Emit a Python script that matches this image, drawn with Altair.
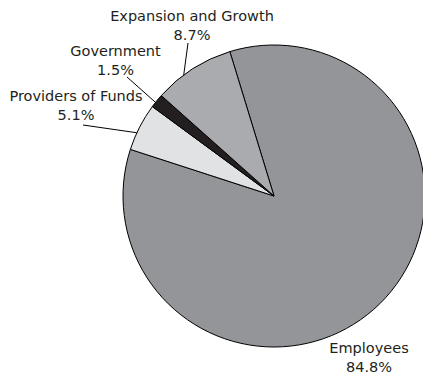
import math
import altair as alt
import pandas as pd

# ---- data ----
categories = ["Employees", "Providers of Funds", "Government", "Expansion and Growth"]
shares = [84.8, 5.1, 1.5, 8.7]
pct_labels = ["84.8%", "5.1%", "1.5%", "8.7%"]
colors = ["#939598", "#e1e2e4", "#231f20", "#a9abae"]

# ---- layout (pixels / degrees) ----
W, H = 423, 373
CX, CY, R = 274, 196, 151
START_DEG = -17.0
label_x = [369, 76, 115.5, 192]
label_y = [352.5, 100.5, 56, 21]          # baseline of first line
leader_end_x = [None, 83, 127, 188]
leader_end_y = [None, 125, 77, 43]
leader_frac = 0.37                          # position of leader start within slice

total = sum(shares)
pie_df = pd.DataFrame({
    "category": categories,
    "share": shares,
    "idx": list(range(len(categories))),
})

start_rad = math.radians(START_DEG)
pie = alt.Chart(pie_df).mark_arc(
    outerRadius=R, stroke="#000000", strokeWidth=1
).encode(
    theta=alt.Theta("share:Q", stack=True,
                    scale=alt.Scale(range=[start_rad, start_rad + 2 * math.pi])),
    color=alt.Color("category:N", scale=alt.Scale(domain=categories, range=colors),
                    legend=None),
    order=alt.Order("idx:Q"),
    x=alt.value(CX),
    y=alt.value(CY),
)

# leader lines, starting on the rim inside each slice
rows = []
cum = 0.0
for i, s in enumerate(shares):
    if leader_end_x[i] is not None:
        ang = math.radians(START_DEG + (cum + leader_frac * s) / total * 360.0)
        rows.append({
            "x": CX + R * math.sin(ang), "y": CY - R * math.cos(ang),
            "x2": leader_end_x[i], "y2": leader_end_y[i],
        })
    cum += s
lead_df = pd.DataFrame(rows)
leaders = alt.Chart(lead_df).mark_rule(color="#000000", strokeWidth=1).encode(
    x=alt.X("x:Q", scale=None), y=alt.Y("y:Q", scale=None),
    x2="x2:Q", y2="y2:Q",
)

lab_df = pd.DataFrame({
    "text": [f"{c}\n{p}" for c, p in zip(categories, pct_labels)],
    "x": label_x, "y": label_y,
})
labels = alt.Chart(lab_df).mark_text(
    font="DejaVu Sans", fontSize=14.5, color="#231f20", align="center",
    baseline="alphabetic", lineBreak="\n", lineHeight=19,
).encode(
    x=alt.X("x:Q", scale=None), y=alt.Y("y:Q", scale=None), text="text:N",
)

chart = alt.layer(pie, leaders, labels).properties(
    width=W, height=H, autosize=alt.AutoSizeParams(type="none"), padding=0,
    background="#ffffff",
).configure_view(stroke=None)

chart.save("out.html", embed_options={"renderer": "svg", "actions": False})
